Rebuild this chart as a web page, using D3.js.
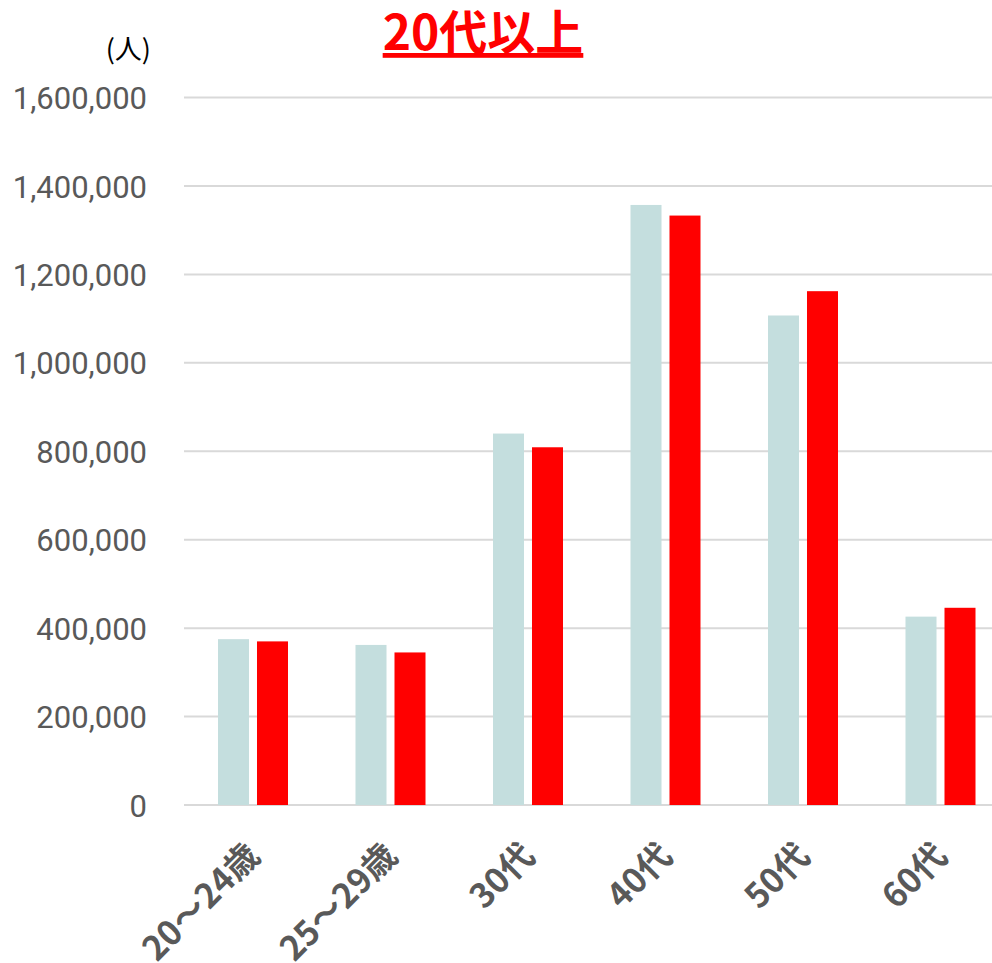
<!DOCTYPE html>
<meta charset="utf-8">
<body style="margin:0;background:#fff">
<style>
  .tick text { fill: #595959; }
  .ylab text { font-family: Roboto, "Noto Sans", sans-serif; font-size: 31px; }
  .xlab text { font-family: "Noto Sans CJK JP", sans-serif; font-size: 34px; font-weight: bold; }
  .grid line { stroke: #d9d9d9; stroke-width: 2px; }
</style>
<svg width="992" height="963"></svg>
<script src="https://d3js.org/d3.v7.min.js"></script>
<script>
var categories = ["20～24歳", "25～29歳", "30代", "40代", "50代", "60代"];
var seriesNames = ["a", "b"];
var seriesA = [375000, 362000, 840000, 1357000, 1107000, 426000];
var seriesB = [370000, 345000, 809000, 1333000, 1162000, 446000];
var colors = ["#c4dede", "#ff0000"];
var yTicks = [0, 200000, 400000, 600000, 800000, 1000000, 1200000, 1400000, 1600000];

var svg = d3.select("svg");

var x0 = d3.scaleBand()
    .domain(categories)
    .range([184, 1009])
    .padding(0);

var x1 = d3.scaleBand()
    .domain(seriesNames)
    .range([34, 104])
    .paddingInner(0.205)
    .paddingOuter(0);

var y = d3.scaleLinear()
    .domain([0, 1600000])
    .range([805, 97.5]);

// gridlines
svg.append("g")
    .attr("class", "grid")
    .selectAll("line")
    .data(yTicks)
    .enter().append("line")
        .attr("x1", 184)
        .attr("x2", 992)
        .attr("y1", function (d) { return y(d); })
        .attr("y2", function (d) { return y(d); });

// y axis labels
var yAxis = svg.append("g")
    .attr("class", "ylab")
    .attr("transform", "translate(147,0)")
    .call(d3.axisLeft(y).tickValues(yTicks).tickFormat(d3.format(",")).tickSize(0).tickPadding(0));
yAxis.select(".domain").remove();
yAxis.selectAll("text").attr("dy", "0.36em");

// bars
var rows = categories.map(function (c, i) {
  return { cat: c, vals: [seriesA[i], seriesB[i]] };
});
var groups = svg.append("g")
    .selectAll("g")
    .data(rows)
    .enter().append("g")
        .attr("transform", function (d) { return "translate(" + x0(d.cat) + ",0)"; });
groups.selectAll("rect")
    .data(function (d) { return d.vals.map(function (v, j) { return { key: seriesNames[j], v: v, j: j }; }); })
    .enter().append("rect")
        .attr("x", function (d) { return x1(d.key); })
        .attr("width", x1.bandwidth())
        .attr("y", function (d) { return y(d.v); })
        .attr("height", function (d) { return y(0) - y(d.v); })
        .attr("fill", function (d) { return colors[d.j]; });

// x axis labels
var xAxis = svg.append("g")
    .attr("class", "xlab")
    .attr("transform", "translate(0,858)")
    .call(d3.axisBottom(x0).tickSize(0).tickPadding(0));
xAxis.select(".domain").remove();
xAxis.selectAll("text")
    .attr("text-anchor", "end")
    .attr("dy", 0)
    .attr("y", 0)
    .attr("transform", "translate(9,0) rotate(-45)");

// unit label
svg.append("text")
    .attr("x", 151)
    .attr("y", 59)
    .attr("text-anchor", "end")
    .attr("font-family", "Noto Sans CJK JP, sans-serif")
    .attr("font-size", 27)
    .attr("fill", "#000")
    .text("(人)");

// title
svg.append("text")
    .attr("x", 483)
    .attr("y", 50)
    .attr("text-anchor", "middle")
    .attr("font-family", "Noto Sans CJK JP, sans-serif")
    .attr("font-size", 48)
    .attr("font-weight", "bold")
    .attr("fill", "#ff0000")
    .attr("text-decoration", "underline")
    .text("20代以上");
</script>
</body>
